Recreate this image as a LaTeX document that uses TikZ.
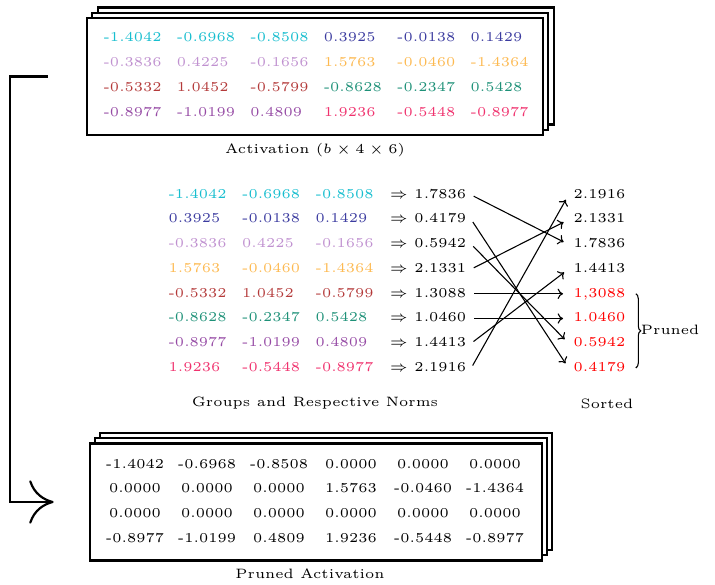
\documentclass[tikz,border=0pt]{standalone}
\usepackage{tikz}
\usetikzlibrary{arrows.meta,decorations.pathreplacing}
\definecolor{g1}{RGB}{23,190,207}
\definecolor{g2}{RGB}{60,60,160}
\definecolor{g3}{RGB}{192,145,208}
\definecolor{g4}{RGB}{253,185,80}
\definecolor{g5}{RGB}{180,58,58}
\definecolor{g6}{RGB}{30,145,120}
\definecolor{g7}{RGB}{150,75,165}
\definecolor{g8}{RGB}{240,50,110}
\begin{document}
\begin{tikzpicture}[x=0.368pt,y=-0.368pt,
  v/.style={font=\tiny,inner sep=1.67pt,text height=3.3pt,text depth=0.9pt},
  m/.style={rectangle,draw,thick,fill=white,minimum width=167.8pt,minimum height=43pt},
  >={Computer Modern Rightarrow[length=2pt,width=3.8pt]}]
  \useasboundingbox (0,0) rectangle (715,585);

  % activation
  \node[m] (a3) at (325.6,66) {};
  \node[m] (a2) at (320.3,71.3) {};
  \node[m] (a) at (315,76.5) {};
  \foreach \y/\ca/\cb/\va/\vb/\vc/\vd/\ve/\vf [count=\i] in {
      38/g1/g2/-1.4042/-0.6968/-0.8508/0.3925/-0.0138/0.1429,
      63/g3/g4/-0.3836/0.4225/-0.1656/1.5763/-0.0460/-1.4364,
      88/g5/g6/-0.5332/1.0452/-0.5799/-0.8628/-0.2347/0.5428,
      113/g7/g8/-0.8977/-1.0199/0.4809/1.9236/-0.5448/-0.8977}{
    \foreach \v [count=\j] in {\va,\vb,\vc}
      \node[v,text=\ca,anchor=west] (a\i\j) at (25.1+73.4*\j,\y) {\v};
    \foreach \v [count=\j from 4] in {\vd,\ve,\vf}
      \node[v,text=\cb,anchor=west] (a\i\j) at (25.1+73.4*\j,\y) {\v};
  }
  \node[v] (ca) at (315,150) {Activation ($b\times4\times6$)};

  % groups and norms
  \foreach \ga/\gb/\gc/\nv [count=\i] in {
      -1.4042/-0.6968/-0.8508/1.7836,
      0.3925/-0.0138/0.1429/0.4179,
      -0.3836/0.4225/-0.1656/0.5942,
      1.5763/-0.0460/-1.4364/2.1331,
      -0.5332/1.0452/-0.5799/1.3088,
      -0.8628/-0.2347/0.5428/1.0460,
      -0.8977/-1.0199/0.4809/1.4413,
      1.9236/-0.5448/-0.8977/2.1916}{
    \foreach \v [count=\j] in {\ga,\gb,\gc}
      \node[v,text=g\i,anchor=west] (grp\i\j) at (90+73.5*\j,170.3+24.7*\i) {\v};
    \node[v,anchor=west] (n\i) at (384.5,170.3+24.7*\i) {$\Rightarrow$ \nv};
  }
  \node[v] (cg) at (315,403) {Groups and Respective Norms};

  % sorted
  \foreach \sv/\c [count=\i] in {2.1916/black,2.1331/black,1.7836/black,1.4413/black,
      {1,3088}/red,1.0460/red,0.5942/red,0.4179/red}
    \node[v,text=\c,anchor=west] (s\i) at (568.5,170.3+24.7*\i) {\sv};
  \node[v] (cs) at (607,405) {Sorted};

  \foreach \p/\q in {1/3,2/8,3/7,4/2,5/5,6/6,7/4,8/1}
    \draw[->,shorten <=1pt,shorten >=2pt] (n\p.east) -- (s\q.west);

  \draw[decoration={brace,amplitude=1.8pt},decorate] ([xshift=2pt]s5.east) to[edge node={node[v,right=0pt] (pr) {Pruned}}] ([xshift=2pt]s8.east);

  % pruned activation
  \node[m,minimum width=166.3pt] (p3) at (326,491.5) {};
  \node[m,minimum width=166.3pt] (p2) at (321,496.7) {};
  \node[m,minimum width=166.3pt] (p) at (316,502) {};
  \foreach \va/\vb/\vc/\vd/\ve/\vf [count=\i] in {
      -1.4042/-0.6968/-0.8508/0.0000/0.0000/0.0000,
      0.0000/0.0000/0.0000/1.5763/-0.0460/-1.4364,
      0.0000/0.0000/0.0000/0.0000/0.0000/0.0000,
      -0.8977/-1.0199/0.4809/1.9236/-0.5448/-0.8977}
    \foreach \v [count=\j] in {\va,\vb,\vc,\vd,\ve,\vf}
      \node[v] (q\i\j) at (63+72*\j,440.3+24.7*\i) {\v};
  \node[v] (cp) at (310,575) {Pruned Activation};

  \draw[thick,-{Computer Modern Rightarrow[length=9pt,width=16pt]}] ([xshift=-14pt]a.west) -- ++(-14pt,0) |- ([xshift=-13pt]p.west);
\end{tikzpicture}
\end{document}
